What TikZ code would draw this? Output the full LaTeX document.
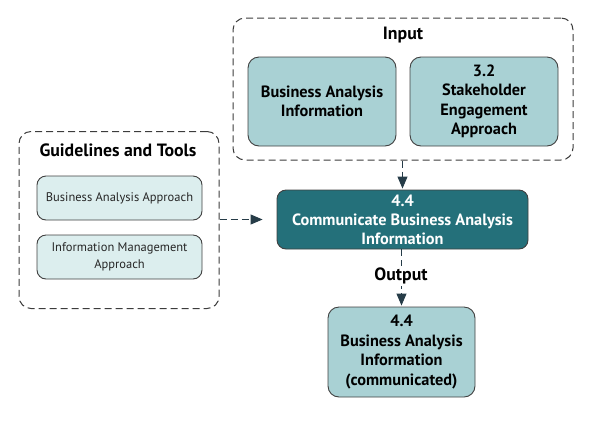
\documentclass[tikz,border=0pt]{standalone}
\usepackage{fontspec}
\setmainfont{PT Sans}
\usetikzlibrary{arrows.meta}
\definecolor{dashc}{HTML}{3C3C3C}
\definecolor{lightteal}{HTML}{A9D1D4}
\definecolor{paleteal}{HTML}{DCEEEE}
\definecolor{darkteal}{HTML}{24707A}
\definecolor{edgec}{HTML}{404040}
\definecolor{arrowc}{HTML}{263C48}
\tikzset{
  groupbox/.style={draw=dashc, line width=1pt, dash pattern=on 7pt off 4pt, rounded corners=12pt, inner sep=0pt},
  inbox/.style={draw=edgec, line width=0.9pt, fill=lightteal, rounded corners=11pt, align=center, font=\bfseries\fontsize{16.3}{19.5}\selectfont, text=black, inner sep=2pt},
  toolbox/.style={draw=edgec, line width=0.9pt, fill=paleteal, rounded corners=9pt, align=center, font=\fontsize{12.5}{17}\selectfont, text=black!85, inner sep=2pt},
  mainbox/.style={draw=edgec, line width=0.9pt, fill=darkteal, rounded corners=9pt, align=center, font=\bfseries\fontsize{16.3}{19}\selectfont, text=white, inner sep=2pt},
  lbl/.style={font=\bfseries\fontsize{17.8}{20}\selectfont, text=black},
  flow/.style={draw=arrowc, line width=1pt, dash pattern=on 7pt off 4pt, -{Triangle[length=12pt,width=10pt]}},
}
\begin{document}
\begin{tikzpicture}[x=1pt,y=-1pt]
\useasboundingbox (0,0) rectangle (615,424);
% Input group
\node[groupbox, minimum width=340pt, minimum height=142pt] (input) at (403,89) {};
\node[lbl] (inputlbl) at (403,35) {Input};
\node[inbox, minimum width=148pt, minimum height=89pt] (bai) at (322,101.5) {Business Analysis\\Information};
\node[inbox, minimum width=148pt, minimum height=89pt] (sea) at (484,101.5) {3.2\\Stakeholder\\Engagement\\Approach};
% Guidelines group
\node[groupbox, minimum width=200pt, minimum height=177pt] (guide) at (119,220) {};
\node[lbl] (guidelbl) at (118,150) {Guidelines and Tools};
\node[toolbox, minimum width=165pt, minimum height=44pt] (baa) at (119.5,198) {Business Analysis Approach};
\node[toolbox, minimum width=165pt, minimum height=44pt] (ima) at (119.5,257) {Information Management\\Approach};
% Main task
\node[mainbox, minimum width=251pt, minimum height=59pt] (main) at (402.5,219.5) {\raisebox{-2pt}{\parbox{240pt}{\centering 4.4\\Communicate Business Analysis\\Information}}};
% Output
\node[inbox, minimum width=147pt, minimum height=90pt] (out) at (401.5,352) {4.4\\Business Analysis\\Information\\(communicated)};
% Connectors
\draw[flow, shorten >=1pt] (input.south -| main.north) -- (main.north);
\draw[flow, shorten >=14pt] (guide.east |- main.west) -- (main.west);
\draw[flow, shorten >=1pt] (main.south -| out.north) -- (out.north);
\node[lbl, fill=white, inner sep=2pt] (outlbl) at (401,276) {Output};
\end{tikzpicture}
\end{document}
